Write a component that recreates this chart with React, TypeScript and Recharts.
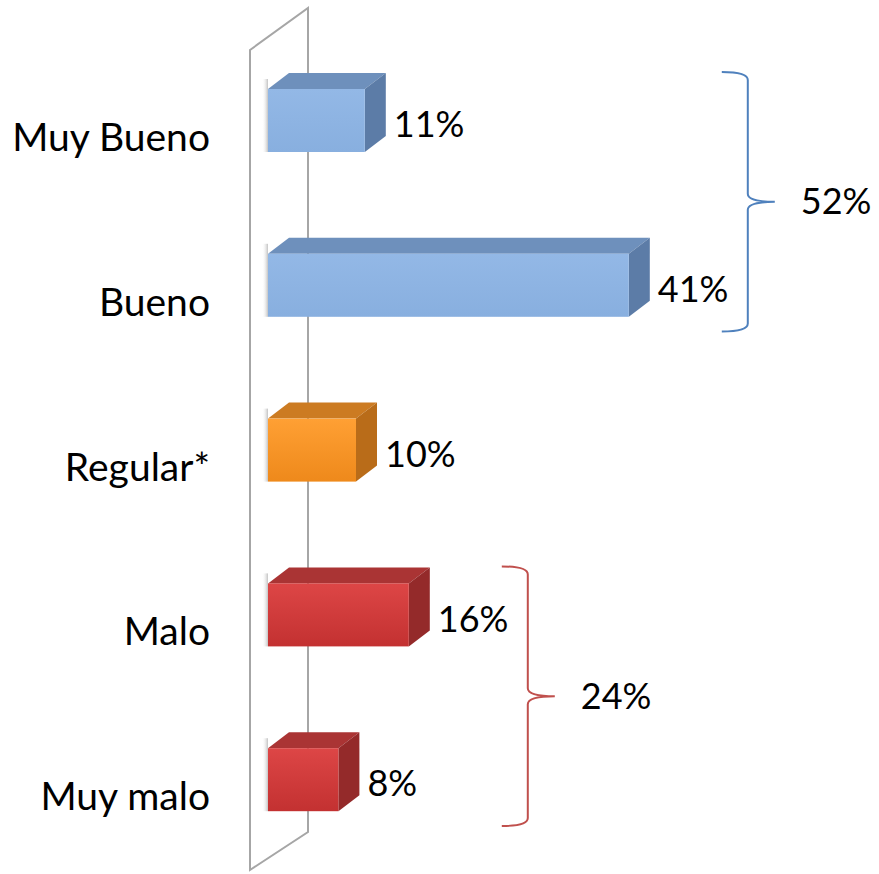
import React from "react";
import { BarChart, Bar, XAxis, YAxis, ReferenceArea, LabelList } from "recharts";

const categories = ["Muy Bueno", "Bueno", "Regular*", "Malo", "Muy malo"];
const values = [11, 41, 10, 16, 8];
const tones = ["blue", "blue", "orange", "red", "red"];
const positiveGroup = ["Muy Bueno", "Bueno"];
const negativeGroup = ["Malo", "Muy malo"];

const data = categories.map((name, i) => ({ name, value: values[i], tone: tones[i] }));

const palette: Record<string, { hi: string; lo: string; top: string; side: string }> = {
  blue: { hi: "#93b8e6", lo: "#88afdf", top: "#6e90bc", side: "#5c7ca7" },
  orange: { hi: "#ffa034", lo: "#ee891b", top: "#cc7b22", side: "#b96c19" },
  red: { hi: "#dd4646", lo: "#c33131", top: "#aa3434", side: "#942a2a" },
};

const FONT = "Lato, 'Open Sans', sans-serif";
const DX = 21;
const DY = 16;

const groupTotal = (group: string[]) =>
  data.filter((d) => group.includes(d.name)).reduce((s, d) => s + d.value, 0);
const groupMax = (group: string[]) =>
  Math.max(...data.filter((d) => group.includes(d.name)).map((d) => d.value));

function Bar3D(props: any) {
  const { x, y, width, height, payload } = props;
  const c = palette[payload.tone];
  return (
    <g>
      <rect x={x - 6} y={y - DY + 6} width={6} height={height + DY - 6} fill="url(#barShadow)" />
      <polygon
        points={`${x},${y} ${x + DX},${y - DY} ${x + width + DX},${y - DY} ${x + width},${y}`}
        fill={c.top}
      />
      <polygon
        points={`${x + width},${y} ${x + width + DX},${y - DY} ${x + width + DX},${y + height - DY} ${x + width},${y + height}`}
        fill={c.side}
      />
      <rect x={x} y={y} width={width} height={height} fill={`url(#front-${payload.tone})`} />
    </g>
  );
}

function ValueLabel(props: any) {
  const { x, y, width, height, value } = props;
  return (
    <text
      x={x + width + DX + 8}
      y={y + height / 2 + 4}
      dy="0.35em"
      fontSize={36}
      fontFamily={FONT}
      fill="#000"
    >
      {`${value}%`}
    </text>
  );
}

function CategoryTick(props: any) {
  const { x, y, payload } = props;
  return (
    <text x={x - 58} y={y + 17} dy="0.35em" textAnchor="end" fontSize={39} fontFamily={FONT} fill="#000">
      {payload.value}
    </text>
  );
}

function Wall(props: any) {
  const { x, y, height } = props;
  const fx = x - 18;
  const bx = x + 40;
  return (
    <polygon
      points={`${fx},${y + 12} ${bx},${y - 30} ${bx},${y + height - 30} ${fx},${y + height + 8}`}
      fill="#fff"
      stroke="#a6a6a6"
      strokeWidth={2}
    />
  );
}

function Brace(props: any) {
  const { x, y, height, color, total } = props;
  const x0 = x + 93;
  const xm = x0 + 26;
  const tip = x0 + 53;
  const top = y + 34;
  const bot = y + height - 36;
  const mid = (top + bot) / 2;
  const r = 8;
  const d = `M${x0},${top} Q${xm},${top} ${xm},${top + r} L${xm},${mid - r} Q${xm},${mid} ${tip},${mid} Q${xm},${mid} ${xm},${mid + r} L${xm},${bot - r} Q${xm},${bot} ${x0},${bot}`;
  return (
    <g>
      <path d={d} fill="none" stroke={color} strokeWidth={2} />
      <text x={tip + 26} y={mid} dy="0.35em" fontSize={36} fontFamily={FONT} fill="#000">
        {`${total}%`}
      </text>
    </g>
  );
}

export default function App() {
  return (
    <div style={{ position: "absolute", left: 0, top: 0, background: "#fff" }}>
      <BarChart
        width={879}
        height={874}
        data={data}
        layout="vertical"
        margin={{ top: 38, right: 83, bottom: 12, left: 0 }}
        barSize={63}
      >
        <defs>
          {Object.entries(palette).map(([k, c]) => (
            <linearGradient key={k} id={`front-${k}`} x1="0" y1="0" x2="0" y2="1">
              <stop offset="0%" stopColor={c.hi} />
              <stop offset="100%" stopColor={c.lo} />
            </linearGradient>
          ))}
          <linearGradient id="barShadow" x1="0" y1="0" x2="1" y2="0">
            <stop offset="0%" stopColor="#ffffff" stopOpacity={0} />
            <stop offset="100%" stopColor="#9a9a9a" stopOpacity={0.6} />
          </linearGradient>
        </defs>
        <XAxis type="number" domain={[0, 60]} hide />
        <YAxis
          type="category"
          dataKey="name"
          width={268}
          axisLine={false}
          tickLine={false}
          tickSize={0}
          tickMargin={0}
          tick={<CategoryTick />}
        />
        <ReferenceArea ifOverflow="visible" shape={<Wall />} zIndex={-50} />
        <Bar dataKey="value" isAnimationActive={false} shape={<Bar3D />}>
          <LabelList dataKey="value" content={<ValueLabel />} />
        </Bar>
        <ReferenceArea
          y1={positiveGroup[0]}
          y2={positiveGroup[positiveGroup.length - 1]}
          x1={groupMax(positiveGroup)}
          x2={groupMax(positiveGroup) + 1}
          ifOverflow="visible"
          shape={<Brace color="#4f81bd" total={groupTotal(positiveGroup)} />}
        />
        <ReferenceArea
          y1={negativeGroup[0]}
          y2={negativeGroup[negativeGroup.length - 1]}
          x1={groupMax(negativeGroup)}
          x2={groupMax(negativeGroup) + 1}
          ifOverflow="visible"
          shape={<Brace color="#c0504d" total={groupTotal(negativeGroup)} />}
        />
      </BarChart>
    </div>
  );
}
